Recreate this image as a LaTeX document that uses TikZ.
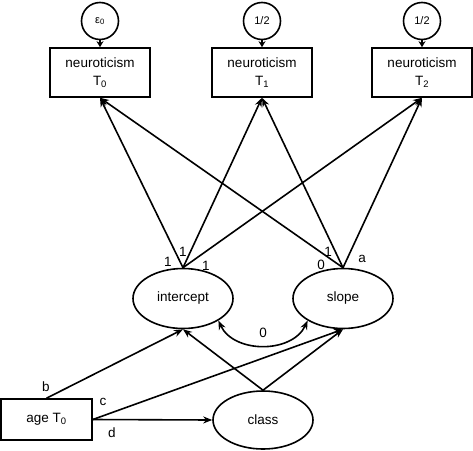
\documentclass[tikz,border=0pt]{standalone}
\usepackage{fontspec}
\setmainfont{Liberation Sans}
\usetikzlibrary{shapes.geometric,arrows.meta}
\begin{document}
\begin{tikzpicture}[x=1pt,y=-1pt, line width=1.6pt,
 obs/.style={draw, minimum width=100pt, minimum height=49pt, inner sep=0pt, align=center, font=\fontsize{13.5}{18}\selectfont},
 lat/.style={draw, ellipse, minimum width=100pt, minimum height=60pt, inner sep=0pt, font=\fontsize{13.5}{15}\selectfont},
 err/.style={draw, circle, minimum size=37pt, inner sep=0pt, font=\fontsize{11}{12}\selectfont},
 arr/.style={-{Stealth[length=9pt,width=7pt]}},
 sarr/.style={-{Stealth[length=6pt,width=7pt]}},
 lab/.style={font=\fontsize{13.5}{15}\selectfont, inner sep=0pt}]
\useasboundingbox (0,0) rectangle (473,450);
% observed
\node[obs] (b0) at (100,72.5) {neuroticism\\T\textsubscript{0}};
\node[obs] (b1) at (262,72.5) {neuroticism\\T\textsubscript{1}};
\node[obs] (b2) at (422,72.5) {neuroticism\\T\textsubscript{2}};
% errors
\node[err] (e0) at (100,21) {ε\textsubscript{0}};
\node[err] (e1) at (262,21) {1/2};
\node[err] (e2) at (422,21) {1/2};
\draw[sarr] (e0) -- (b0);
\draw[sarr] (e1) -- (b1);
\draw[sarr] (e2) -- (b2);
% latent
\node[lat] (int) at (183,298.5) {intercept};
\node[lat] (slo) at (343,298.5) {slope};
\node[lat, minimum height=58pt] (cls) at (263,420) {class};
\node[draw, minimum width=91pt, minimum height=41pt, inner sep=0pt, font=\fontsize{13.5}{15}\selectfont] (age) at (46.5,419.5) {age T\textsubscript{0}};
% loadings
\draw[arr] (int.north) -- (b0.south);
\draw[arr] (int.north) -- (b1.south);
\draw[arr] (int.north) -- (b2.south);
\draw[arr] (slo.north) -- (b0.south);
\draw[arr] (slo.north) -- (b1.south);
\draw[arr] (slo.north) -- (b2.south);
% covariance
\draw[{Stealth[length=9pt,width=7pt]}-{Stealth[length=9pt,width=7pt]}] (int.-32) to[out=-65,in=-115,looseness=1.05] (slo.212);
\node[lab] (l0c) at (263,333) {0};
% regressions
\draw[arr] (age.north) -- (int.south);
\draw[arr] (age.east) -- (slo.south);
\draw[arr] (age.east) -- (cls.west);
\draw[arr] (cls.north) -- (int.south);
\draw[arr] (cls.north) -- (slo.south);
% labels
\node[lab] (la) at (168,262) {1};
\node[lab] (lb) at (183,252) {1};
\node[lab] (lc) at (206,266) {1};
\node[lab] (ld) at (321,265) {0};
\node[lab] (le) at (328,252) {1};
\node[lab] (lf) at (362,259) {a};
\node[lab] (lg) at (46,387) {b};
\node[lab] (lh) at (103,402) {c};
\node[lab] (li) at (112,433) {d};
\end{tikzpicture}
\end{document}
